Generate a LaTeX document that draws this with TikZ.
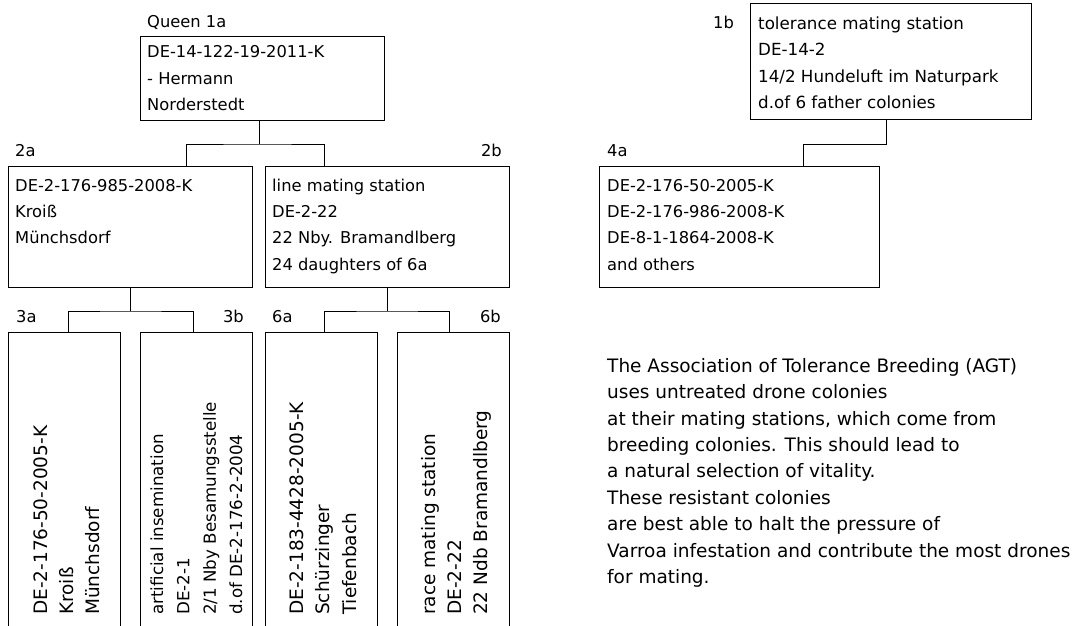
\documentclass[tikz,border=0pt]{standalone}
\usepackage{fontspec}
\setmainfont{DejaVu Sans}
\newcommand\dgfont{\fontsize{16.3}{26.4}\selectfont}
\newcommand\dgmid{\fontsize{16.7}{26.4}\selectfont}
\newcommand\dgbig{\fontsize{18.5}{26.4}\selectfont}
\newcommand\lines[1]{\begin{tabular}[t]{@{}l@{}}#1\end{tabular}}
\begin{document}
\begin{tikzpicture}[x=1pt,y=-1pt,
  box/.style={draw, line width=1pt, anchor=north west, inner sep=0pt},
  txt/.style={anchor=base west, inner sep=0pt, font=\dgfont},
  rtxt/.style={anchor=base west, inner sep=0pt, font=\dgbig, rotate=90},
  lbl/.style={anchor=base west, inner sep=0pt, font=\dgfont},
  lblr/.style={anchor=base east, inner sep=0pt, font=\dgfont},
  conn/.style={line width=1pt}]
\useasboundingbox (0,0) rectangle (1081,626);
\clip (0,0) rectangle (1081,626);

% boxes
\node[box, minimum width=244, minimum height=84] (q) at (140,36) {};
\node[box, minimum width=281, minimum height=116] (b1) at (750,3) {};
\node[box, minimum width=244, minimum height=121] (a2) at (8,166) {};
\node[box, minimum width=244, minimum height=121] (b2) at (265,166) {};
\node[box, minimum width=280, minimum height=121] (a4) at (599,166) {};
\node[box, minimum width=112, minimum height=320] (c3a) at (8,332) {};
\node[box, minimum width=112, minimum height=320] (c3b) at (140,332) {};
\node[box, minimum width=112, minimum height=320] (c6a) at (265,332) {};
\node[box, minimum width=112, minimum height=320] (c6b) at (397,332) {};

% labels
\node[lbl] (lq) at (147,28) {Queen 1a};
\node[lbl] (l1b) at (713,28.3) {1b};
\node[lbl] (l2a) at (15,156) {2a};
\node[lblr] (l2b) at (502,156) {2b};
\node[lbl] (l4a) at (607,156) {4a};
\node[lbl] (l3a) at (16,322.7) {3a};
\node[lblr] (l3b) at (244,322.7) {3b};
\node[lbl] (l6a) at (272,322.7) {6a};
\node[lblr] (l6b) at (501,322.7) {6b};

% box texts
\node[txt] (tq) at (147,57.7) {\lines{DE-14-122-19-2011-K\\- Hermann\\Norderstedt}};
\node[txt, font=\dgmid] (t1b) at (758,29.5) {\lines{tolerance mating station\\DE-14-2\\14/2 Hundeluft im Naturpark\\d.of 6 father colonies}};
\node[txt] (t2a) at (15,191) {\lines{DE-2-176-985-2008-K\\Kroiß\\Münchsdorf}};
\node[txt] (t2b) at (272,191) {\lines{line mating station\\DE-2-22\\22 Nby. Bramandlberg\\24 daughters of 6a}};
\node[txt] (t4a) at (607,191) {\lines{DE-2-176-50-2005-K\\DE-2-176-986-2008-K\\DE-8-1-1864-2008-K\\and others}};

\node[rtxt] (t3a) at (47,615) {\lines{DE-2-176-50-2005-K\\Kroiß\\Münchsdorf}};
\node[rtxt, font=\dgmid] (t3b) at (163,615) {\lines{artificial insemination\\DE-2-1\\2/1 Nby Besamungsstelle\\d.of DE-2-176-2-2004}};
\node[rtxt] (t6a) at (303.3,615) {\lines{DE-2-183-4428-2005-K\\Schürzinger\\Tiefenbach}};
\node[rtxt] (t6b) at (435,615) {\lines{race mating station\\DE-2-22\\22 Ndb Bramandlberg}};

% paragraph
\node[txt, font=\dgbig] (para) at (607,372.3) {\lines{The Association of Tolerance Breeding (AGT)\\uses untreated drone colonies\\at their mating stations, which come from\\breeding colonies. This should lead to\\a natural selection of vitality.\\These resistant colonies\\are best able to halt the pressure of\\Varroa infestation and contribute the most drones\\for mating.}};

% connectors
\draw[conn] ([xshift=-3]q.south) -- ++(0,23) coordinate (jq);
\draw[conn] ([xshift=56]a2.north) |- (jq) -| ([xshift=-63]b2.north);
\draw[conn] ([xshift=-4.5]b1.south) -- ++(0,24) -| ([xshift=64]a4.north);
\draw[conn] (a2.south) -- ++(0,23) coordinate (ja);
\draw[conn] ([xshift=4]c3a.north) |- (ja) -| ([xshift=-3]c3b.north);
\draw[conn] (b2.south) -- ++(0,23) coordinate (jb);
\draw[conn] ([xshift=3]c6a.north) |- (jb) -| ([xshift=-4]c6b.north);
\end{tikzpicture}
\end{document}
